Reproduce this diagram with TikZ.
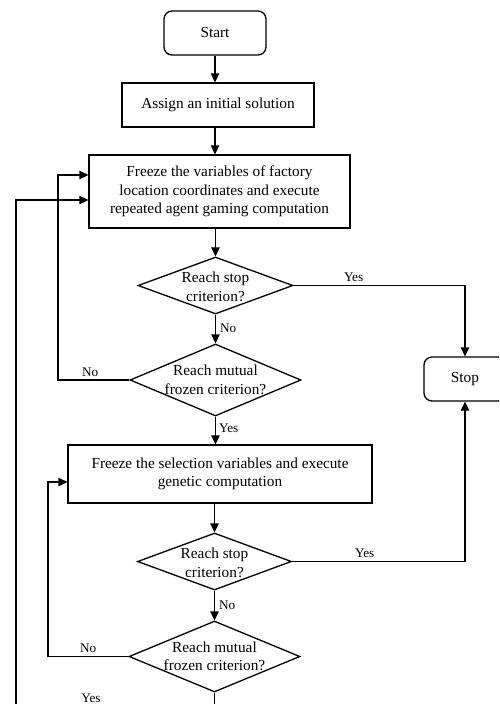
\documentclass[tikz,border=0pt]{standalone}
\usepackage{fontspec}
\setmainfont{Liberation Serif}
\usetikzlibrary{shapes.geometric,arrows.meta}
\begin{document}
\begin{tikzpicture}[x=1pt,y=-1pt,
  every node/.style={inner sep=0pt},
  boxtext/.style={font=\fontsize{15.3}{18.5}\selectfont, align=center},
  procbox/.style={draw, line width=1.3pt, rectangle, boxtext},
  termbox/.style={draw, line width=1.3pt, rectangle, rounded corners=8pt, boxtext},
  decbox/.style={draw, line width=1.3pt, diamond},
  lbl/.style={font=\fontsize{13.2}{15}\selectfont},
  conn/.style={line width=1.3pt},
  arr/.style={conn, -{Triangle[length=9pt,width=8.5pt]}}
]
\useasboundingbox (0,0) rectangle (499,704);
\clip (0,0) rectangle (499,704);
\fill[white] (0,0) rectangle (499,704);

\node[termbox, minimum width=102pt, minimum height=44pt] (start) at (215,33) {Start};
\node[procbox, minimum width=192pt, minimum height=44pt] (assign) at (218,105) {Assign an initial solution};
\node[procbox, minimum width=261pt, minimum height=73pt] (fz1) at (219.5,191.5) {Freeze the variables of factory\\location coordinates and execute\\repeated agent gaming computation};
\node[decbox, minimum width=155pt, minimum height=57pt, label={[boxtext, yshift=-1.5pt]center:Reach stop\\criterion?}] (d1) at (215.5,285.5) {};
\node[decbox, minimum width=171pt, minimum height=72pt, label={[boxtext]center:Reach mutual\\frozen criterion?}] (d2) at (215.5,380) {};
\node[procbox, minimum width=304pt, minimum height=58pt] (fz2) at (220,474) {Freeze the selection variables and execute\\genetic computation};
\node[decbox, minimum width=154pt, minimum height=57pt, label={[boxtext, yshift=-1.5pt]center:Reach stop\\criterion?}] (d3) at (214.5,561.5) {};
\node[decbox, minimum width=171pt, minimum height=71pt, label={[boxtext]center:Reach mutual\\frozen criterion?}] (d4) at (214.5,656.5) {};
\node[termbox, minimum width=82pt, minimum height=44pt] (stop) at (465,379) {Stop};

\coordinate (bot1) at (214.5,712);
\coordinate (bot2) at (16,712);

% main flow
\draw[arr] (start.south) -- (start.south |- assign.north);
\draw[arr] (assign.south -| start.south) -- (start.south |- fz1.north);
\draw[arr] (d1.north |- fz1.south) -- (d1.north);
\draw[arr] (d1.south) -- node[lbl, anchor=west, xshift=4pt, yshift=1pt] (l1) {No} (d2.north);
\draw[arr] (d2.south) -- node[lbl, anchor=west, xshift=3pt, yshift=2pt] (l2) {Yes} (d2.south |- fz2.north);
\draw[arr] (d3.north |- fz2.south) -- (d3.north);
\draw[arr] (d3.south) -- node[lbl, anchor=west, xshift=4pt, yshift=0pt] (l3) {No} (d4.north);
\draw[conn] (d4.south) -- (bot1);

% yes to stop
\draw[arr] (d1.east) -- node[lbl, pos=0.35, above=3pt] (l4) {Yes} (d1.east -| stop.north) -- (stop.north);
\draw[arr] (d3.east) -- node[lbl, pos=0.42, above=3pt] (l5) {Yes} (d3.east -| stop.south) -- (stop.south);

% loops
\draw[arr] (d2.west) -- node[lbl, pos=0.55, above=3pt] (l6) {No} (58,380) |- (fz1.west |- 0,175);
\draw[arr] (d4.west) -- node[lbl, pos=0.5, above=3pt] (l7) {No} (48,656.5) |- (fz2.west |- 0,482);
\draw[arr] (bot2) |- (fz1.west |- 0,200);
\node[lbl] (l8) at (91,698) {Yes};
\end{tikzpicture}
\end{document}
